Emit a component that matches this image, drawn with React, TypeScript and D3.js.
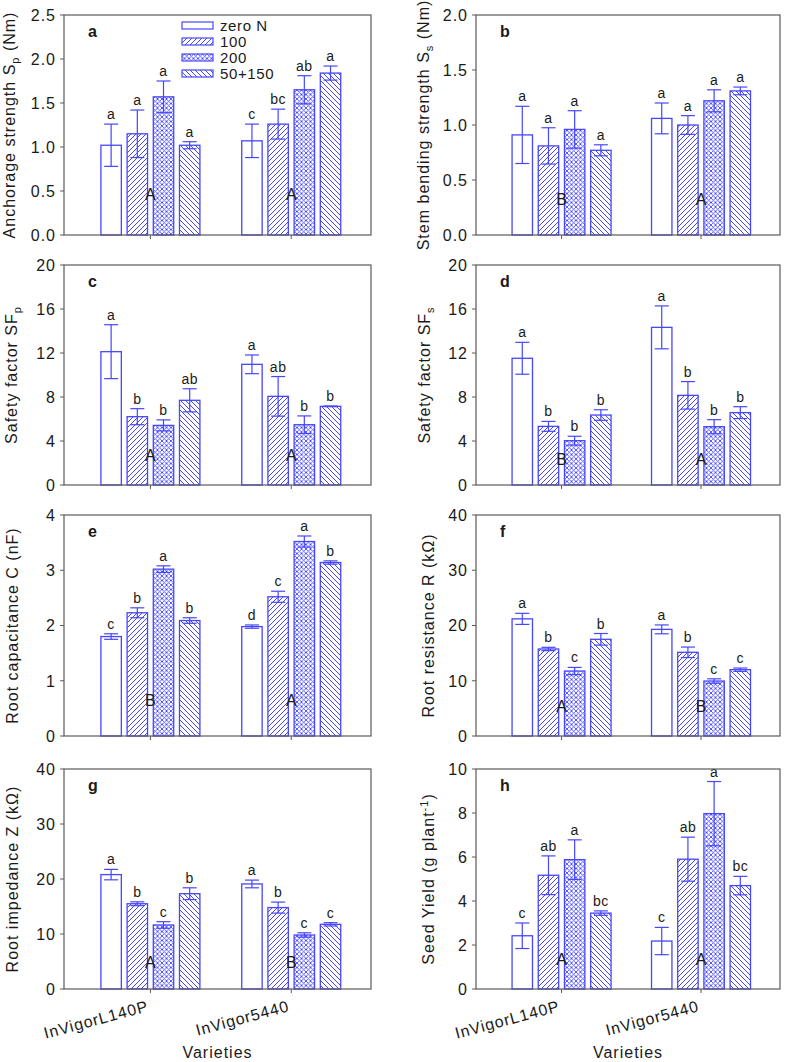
import React from 'react';
import * as d3 from 'd3';

const groups = ['InVigorL140P', 'InVigor5440'];
const treatments = ['zero N', '100', '200', '50+150'];

// a: Anchorage strength
const anchorMeans = [[1.02, 1.15, 1.57, 1.02], [1.07, 1.26, 1.65, 1.84]];
const anchorErr = [[0.24, 0.27, 0.18, 0.04], [0.19, 0.17, 0.16, 0.08]];
const anchorLetters = [['a', 'a', 'a', 'a'], ['c', 'bc', 'ab', 'a']];
const anchorGroup = ['A', 'A'];

// b: Stem bending strength
const stemMeans = [[0.91, 0.81, 0.96, 0.77], [1.06, 1.0, 1.22, 1.31]];
const stemErr = [[0.26, 0.165, 0.17, 0.05], [0.14, 0.085, 0.1, 0.035]];
const stemLetters = [['a', 'a', 'a', 'a'], ['a', 'a', 'a', 'a']];
const stemGroup = ['B', 'A'];

// c: Safety factor SFp
const sfpMeans = [[12.12, 6.21, 5.42, 7.7], [10.97, 8.06, 5.48, 7.15]];
const sfpErr = [[2.45, 0.73, 0.5, 1.05], [0.85, 1.8, 0.8, 0.03]];
const sfpLetters = [['a', 'b', 'b', 'ab'], ['a', 'ab', 'b', 'b']];
const sfpGroup = ['A', 'A'];

// d: Safety factor SFs
const sfsMeans = [[11.52, 5.33, 4.03, 6.36], [14.33, 8.15, 5.3, 6.58]];
const sfsErr = [[1.45, 0.45, 0.4, 0.48], [1.95, 1.25, 0.64, 0.54]];
const sfsLetters = [['a', 'b', 'b', 'b'], ['a', 'b', 'b', 'b']];
const sfsGroup = ['B', 'A'];

// e: Root capacitance
const capMeans = [[1.8, 2.23, 3.02, 2.09], [1.98, 2.52, 3.52, 3.14]];
const capErr = [[0.05, 0.09, 0.06, 0.05], [0.03, 0.1, 0.1, 0.03]];
const capLetters = [['c', 'b', 'a', 'b'], ['d', 'c', 'a', 'b']];
const capGroup = ['B', 'A'];

// f: Root resistance
const resMeans = [[21.2, 15.75, 11.76, 17.5], [19.3, 15.15, 9.95, 12.0]];
const resErr = [[1.0, 0.3, 0.65, 1.05], [0.8, 0.95, 0.4, 0.3]];
const resLetters = [['a', 'b', 'c', 'b'], ['a', 'b', 'c', 'c']];
const resGroup = ['A', 'B'];

// g: Root impedance
const impMeans = [[20.8, 15.5, 11.64, 17.33], [19.1, 14.8, 9.82, 11.76]];
const impErr = [[0.95, 0.35, 0.6, 1.07], [0.7, 1.0, 0.4, 0.3]];
const impLetters = [['a', 'b', 'c', 'b'], ['a', 'b', 'c', 'c']];
const impGroup = ['A', 'B'];

// h: Seed yield
const yieldMeans = [[2.42, 5.17, 5.88, 3.45], [2.18, 5.9, 7.97, 4.7]];
const yieldErr = [[0.58, 0.88, 0.9, 0.1], [0.62, 1.0, 1.46, 0.42]];
const yieldLetters = [['c', 'ab', 'a', 'bc'], ['c', 'ab', 'a', 'bc']];
const yieldGroup = ['A', 'A'];

const BLUE = '#4646ff';
const FRAME = '#5a5a5a';
const TEXT = '#1a1a1a';
const FONT = '"Liberation Sans", Arial, sans-serif';

const cols = [[64, 371], [476, 780]];
const rows = [[15, 235], [265, 485], [515, 736], [769, 989]];

type Cfg = {
  id: string; means: number[][]; errs: number[][]; letters: string[][]; groupLetters: string[];
  yMax: number; yStep: number; decimals: number; title: React.ReactNode; col: number; row: number;
  groupLabelOffset: number; titleOffset: number; legend?: boolean;
};

const sub = (main: string, s: string, rest: string) => (
  <>
    {main}
    <tspan dy={4} fontSize={11}>{s}</tspan>
    <tspan dy={-4}>{rest}</tspan>
  </>
);

const panels: Cfg[] = [
  { id: 'a', means: anchorMeans, errs: anchorErr, letters: anchorLetters, groupLetters: anchorGroup, yMax: 2.5, yStep: 0.5, decimals: 1, title: sub('Anchorage strength S', 'p', ' (Nm)'), col: 0, row: 0, groupLabelOffset: 35, titleOffset: 49, legend: true },
  { id: 'b', means: stemMeans, errs: stemErr, letters: stemLetters, groupLetters: stemGroup, yMax: 2.0, yStep: 0.5, decimals: 1, title: sub('Stem bending strength S', 's', ' (Nm)'), col: 1, row: 0, groupLabelOffset: 30, titleOffset: 47 },
  { id: 'c', means: sfpMeans, errs: sfpErr, letters: sfpLetters, groupLetters: sfpGroup, yMax: 20, yStep: 4, decimals: 0, title: sub('Safety factor SF', 'p', ''), col: 0, row: 1, groupLabelOffset: 24, titleOffset: 47 },
  { id: 'd', means: sfsMeans, errs: sfsErr, letters: sfsLetters, groupLetters: sfsGroup, yMax: 20, yStep: 4, decimals: 0, title: sub('Safety factor SF', 's', ''), col: 1, row: 1, groupLabelOffset: 20, titleOffset: 46 },
  { id: 'e', means: capMeans, errs: capErr, letters: capLetters, groupLetters: capGroup, yMax: 4, yStep: 1, decimals: 0, title: 'Root capacitance C (nF)', col: 0, row: 2, groupLabelOffset: 30, titleOffset: 46 },
  { id: 'f', means: resMeans, errs: resErr, letters: resLetters, groupLetters: resGroup, yMax: 40, yStep: 10, decimals: 0, title: 'Root resistance R (kΩ)', col: 1, row: 2, groupLabelOffset: 24, titleOffset: 42 },
  { id: 'g', means: impMeans, errs: impErr, letters: impLetters, groupLetters: impGroup, yMax: 40, yStep: 10, decimals: 0, title: 'Root impedance Z (kΩ)', col: 0, row: 3, groupLabelOffset: 21, titleOffset: 46 },
  {
    id: 'h', means: yieldMeans, errs: yieldErr, letters: yieldLetters, groupLetters: yieldGroup, yMax: 10, yStep: 2, decimals: 0,
    title: (<>Seed Yield (g plant<tspan dy={-6} fontSize={11}>-1</tspan><tspan dy={6}>)</tspan></>), col: 1, row: 3, groupLabelOffset: 24, titleOffset: 42,
  },
];

const fills = ['#ffffff', 'url(#p100)', 'url(#p200)', 'url(#p50)'];

function Panel({ cfg }: { cfg: Cfg }) {
  const [left, right] = cols[cfg.col];
  const [top, bottom] = rows[cfg.row];
  const y = d3.scaleLinear().domain([0, cfg.yMax]).range([bottom, top]);
  const x0 = d3.scalePoint<string>().domain(groups).range([left, right]).padding(0.59).align(0.52);
  const x1 = d3.scaleBand<string>().domain(treatments).range([-49.5, 49.5]).paddingInner(0.22);
  const ticks = d3.range(0, cfg.yMax + cfg.yStep / 2, cfg.yStep);
  const fmt = d3.format(`.${cfg.decimals}f`);
  const bw = x1.bandwidth();
  const showX = cfg.row === 3;
  const cy = (top + bottom) / 2;

  return (
    <g fontFamily={FONT}>
      {groups.map((g, gi) => (
        <g key={g}>
          {treatments.map((t, ti) => {
            const m = cfg.means[gi][ti];
            const e = cfg.errs[gi][ti];
            const bx = (x0(g) as number) + (x1(t) as number);
            const cx = bx + bw / 2;
            return (
              <g key={t}>
                <rect x={bx} y={y(m)} width={bw} height={y(0) - y(m)} fill={fills[ti]} stroke={BLUE} strokeWidth={1.3} />
                <line x1={cx} x2={cx} y1={y(m - e)} y2={y(m + e)} stroke={BLUE} strokeWidth={1.2} />
                <line x1={cx - 7} x2={cx + 7} y1={y(m + e)} y2={y(m + e)} stroke={BLUE} strokeWidth={1.2} />
                <line x1={cx - 7} x2={cx + 7} y1={y(m - e)} y2={y(m - e)} stroke={BLUE} strokeWidth={1.2} />
                <text x={cx} y={y(m + e) - 5} textAnchor="middle" fontSize={14} letterSpacing={0.5} fill={TEXT}>
                  {cfg.letters[gi][ti]}
                </text>
              </g>
            );
          })}
          <text x={x0(g) as number} y={bottom - cfg.groupLabelOffset} textAnchor="middle" fontSize={16} fill={TEXT}>
            {cfg.groupLetters[gi]}
          </text>
          <line x1={x0(g) as number} x2={x0(g) as number} y1={bottom} y2={bottom + 4} stroke={FRAME} strokeWidth={1} />
          {showX && (
            <text
              transform={`translate(${(x0(g) as number) - 1},${bottom + 22}) rotate(-15)`}
              textAnchor="end" fontSize={16} letterSpacing={0.9} fill={TEXT}
            >
              {g}
            </text>
          )}
        </g>
      ))}
      <rect x={left} y={top} width={right - left} height={bottom - top} fill="none" stroke={FRAME} strokeWidth={1.2} />
      {ticks.map((t) => (
        <g key={t}>
          <line x1={left - 4} x2={left} y1={y(t)} y2={y(t)} stroke={FRAME} strokeWidth={1} />
          <text x={left - 8} y={y(t)} dy="0.36em" textAnchor="end" fontSize={16} letterSpacing={1} fill={TEXT}>
            {fmt(t)}
          </text>
        </g>
      ))}
      <text transform={`translate(${left - cfg.titleOffset},${cy}) rotate(-90)`} textAnchor="middle" fontSize={16} letterSpacing={1} fill={TEXT}>
        {cfg.title}
      </text>
      <text x={left + 24} y={top + 22} fontSize={16} fontWeight="bold" fill={TEXT}>{cfg.id}</text>
      {showX && (
        <text x={(left + right) / 2} y={bottom + 69} textAnchor="middle" fontSize={16} letterSpacing={1} fill={TEXT}>
          Varieties
        </text>
      )}
      {cfg.legend && treatments.map((t, ti) => (
        <g key={t}>
          <rect x={left + 118} y={top + 7 + ti * 16} width={31} height={7} fill={fills[ti]} stroke={BLUE} strokeWidth={1.2} />
          <text x={left + 156} y={top + 11 + ti * 16} dy="0.36em" fontSize={15} letterSpacing={0.6} fill={TEXT}>{t}</text>
        </g>
      ))}
    </g>
  );
}

export default function App() {
  return (
    <svg width={787} height={1062} style={{ position: 'absolute', left: 0, top: 0, background: '#fff' }}>
      <defs>
        <pattern id="p100" patternUnits="userSpaceOnUse" width={5} height={5}>
          <path d="M-1,1 L1,-1 M0,5 L5,0 M4,6 L6,4" stroke={BLUE} strokeWidth={1} />
        </pattern>
        <pattern id="p50" patternUnits="userSpaceOnUse" width={5} height={5}>
          <path d="M-1,4 L1,6 M0,0 L5,5 M4,-1 L6,1" stroke={BLUE} strokeWidth={1} />
        </pattern>
        <pattern id="p200" patternUnits="userSpaceOnUse" width={4.5} height={4.5}>
          <path d="M-1,1 L1,-1 M0,4.5 L4.5,0 M3.5,5.5 L5.5,3.5 M-1,3.5 L1,5.5 M0,0 L4.5,4.5 M3.5,-1 L5.5,1" stroke={BLUE} strokeWidth={0.9} />
        </pattern>
      </defs>
      <rect width={787} height={1062} fill="#fff" />
      {panels.map((p) => <Panel key={p.id} cfg={p} />)}
    </svg>
  );
}
